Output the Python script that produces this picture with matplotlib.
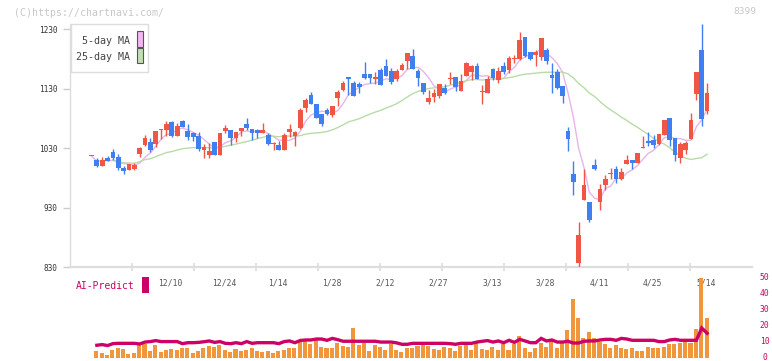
import numpy as np
import pandas as pd
import matplotlib
matplotlib.use('Agg')
import matplotlib.pyplot as plt
from matplotlib.patches import Rectangle
import matplotlib.transforms as mtrans

# ---------------- data ----------------
opens = [1017,1010,1000,1013,1024,1015,997,994,995,1020,
         1036,1041,1037,1060,1061,1074,1051,1076,1059,1056,
         1051,1027,1019,1041,1019,1059,1061,1047,1059,1071,
         1063,1061,1056,1052,1037,1036,1027,1058,1051,1064,
         1098,1120,1105,1088,1094,1086,1115,1128,1150,1140,
         1138,1155,1155,1147,1162,1168,1160,1147,1162,1177,
         1185,1160,1140,1108,1116,1118,1131,1147,1150,1126,
         1152,1158,1168,1124,1123,1163,1145,1168,1162,1180,
         1180,1217,1192,1187,1183,1195,1153,1158,1135,1059,
         987,837,943,940,1002,940,968,986,995,978,
         1004,1010,1005,1030,1042,1044,1037,1052,1081,1047,
         1013,1027,1046,1121,1195,1093]
highs = [1017,1014,1016,1017,1028,1020,1000,1004,1005,1033,
         1052,1048,1059,1063,1076,1076,1073,1078,1071,1058,
         1058,1038,1039,1041,1056,1069,1061,1057,1064,1081,
         1063,1062,1073,1056,1041,1042,1056,1071,1059,1098,
         1115,1125,1105,1088,1098,1101,1128,1143,1150,1143,
         1142,1175,1155,1158,1165,1180,1165,1163,1173,1190,
         1197,1163,1140,1128,1130,1138,1138,1158,1150,1155,
         1175,1170,1173,1136,1152,1165,1167,1175,1185,1187,
         1225,1217,1192,1195,1215,1199,1173,1163,1135,1066,
         1009,906,995,940,1012,970,985,997,1000,997,
         1019,1010,1022,1051,1057,1052,1054,1078,1081,1047,
         1041,1042,1089,1158,1239,1140]
lows = [1017,999,1000,1009,1010,994,987,993,994,1016,
        1034,1024,1033,1045,1050,1049,1050,1066,1044,1043,
        1026,1014,1014,1018,1018,1055,1036,1040,1051,1061,
        1044,1047,1056,1036,1027,1027,1027,1049,1034,1063,
        1091,1105,1081,1068,1086,1083,1101,1126,1120,1118,
        1123,1147,1140,1138,1136,1152,1138,1143,1162,1163,
        1163,1135,1121,1105,1108,1115,1121,1138,1126,1126,
        1152,1145,1147,1105,1123,1145,1140,1155,1157,1173,
        1178,1183,1178,1168,1178,1172,1123,1130,1106,1026,
        952,829,943,906,994,926,960,978,972,977,
        1004,995,1005,1030,1034,1031,1036,1052,1034,1009,
        1005,1021,1046,1111,1068,1088]
closes = [1017,1000,1010,1009,1014,997,992,1004,1002,1030,
          1047,1027,1059,1063,1071,1051,1068,1066,1049,1049,
          1029,1032,1026,1019,1056,1064,1047,1057,1064,1064,
          1056,1056,1061,1037,1038,1027,1052,1063,1057,1094,
          1111,1105,1081,1071,1088,1101,1125,1140,1147,1118,
          1133,1148,1148,1150,1136,1152,1142,1160,1170,1190,
          1163,1148,1125,1115,1123,1138,1123,1148,1133,1143,
          1173,1168,1147,1125,1147,1148,1160,1158,1182,1181,
          1212,1185,1180,1192,1215,1177,1148,1131,1118,1046,
          973,884,968,910,995,962,978,987,978,990,
          1010,1005,1022,1031,1039,1036,1054,1078,1044,1019,
          1037,1039,1078,1158,1079,1123]
volume = [0,4.6,3.1,1.9,5.0,6.3,5.6,2.5,3.1,8.2,
          8.8,4.4,8.2,3.8,5.0,5.6,5.0,6.3,6.3,3.1,
          4.4,6.3,7.5,6.9,8.2,5.0,3.8,5.6,4.4,5.0,
          6.3,4.4,3.8,4.4,3.1,4.4,5.0,6.3,6.3,10.7,
          10.7,8.8,11.3,6.9,6.3,6.3,9.4,7.5,6.9,18.8,
          8.2,9.4,4.4,8.2,7.0,5.0,9.0,5.0,4.0,6.5,
          6.0,7.5,8.0,7.5,5.5,5.0,7.0,6.5,4.5,7.5,
          8.0,5.0,9.5,5.5,5.0,7.0,5.0,9.0,5.0,8.5,
          14.0,6.5,4.0,6.0,9.5,7.0,11.0,6.0,9.5,17.5,
          37.0,25.0,12.5,16.5,12.5,10.0,8.5,6.0,8.0,6.5,
          5.5,6.5,4.5,4.5,7.0,6.0,6.5,7.0,9.0,8.5,
          9.5,10.5,9.5,18.0,50.0,25.0]
ai_predict = [np.nan,8.0,8.4,7.8,9.0,9.2,9.2,9.2,9.2,8.8,
              10.0,10.3,10.9,10.3,10.3,10.3,10.3,9.0,9.6,9.6,
              9.8,10.2,10.7,9.8,10.3,9.2,9.0,9.6,9.0,10.3,
              9.2,9.6,9.6,9.6,9.6,9.0,10.3,10.7,9.6,11.0,
              11.3,11.3,11.9,11.9,11.1,12.3,11.5,10.5,10.5,10.5,
              10.5,10.5,10.5,10.5,10.0,10.0,10.0,9.5,8.6,8.6,
              9.2,9.2,9.2,9.2,9.2,9.2,9.2,9.0,8.6,9.2,
              9.2,9.2,10.0,10.5,10.9,10.0,10.7,9.6,11.1,9.8,
              11.7,10.7,9.6,9.6,12.3,10.7,11.3,10.0,10.0,10.5,
              9.4,9.4,10.5,10.7,10.7,11.3,11.7,11.7,11.1,12.3,
              11.9,11.1,11.1,11.1,11.1,11.1,10.3,10.3,11.3,11.7,
              11.1,11.1,11.1,11.1,18.8,15.5]
date_labels = ['12/10','12/24','1/14','1/28','2/12','2/27','3/13','3/28','4/11','4/25','5/14']
date_label_idx = [14,24,34,44,54,64,74,84,94,104,114]
price_ticks = [830,930,1030,1130,1230]
vol_ticks = [0,10,20,30,40,50]

# ---------------- layout ----------------
W, H = 772, 361
fig = plt.figure(figsize=(W/100, H/100), dpi=100)
fig.patch.set_facecolor('white')

def fx(px):
    return px / W

def fy(py):
    return 1 - py / H

step = 5.353          # px per candle
x_first = 91.5        # px of candle 0
X0, X1 = 70.0, 752.0
xlo = (X0 - x_first) / step
xhi = (X1 - x_first) / step

Y_BOT, Y_TOP = 267.3, 10.0
ppu = 0.595
ymin = 830
ymax = 830 + (Y_BOT - Y_TOP) / ppu

RED = '#f05643'
BLUE = '#3f7ff0'
MONO = 'DejaVu Sans Mono'

ax = fig.add_axes([fx(X0), fy(Y_BOT), fx(X1) - fx(X0), fy(Y_TOP) - fy(Y_BOT)])
ax.set_xlim(xlo, xhi)
ax.set_ylim(ymin, ymax)
ax.set_facecolor('none')
for s in ['top', 'right']:
    ax.spines[s].set_visible(False)
ax.spines['bottom'].set_color('#dddddd')
ax.spines['bottom'].set_linewidth(1.6)
ax.spines['left'].set_color('#dddddd')
ax.spines['left'].set_linewidth(1.0)
ax.spines['left'].set_bounds(830, 1239)

ax.set_yticks(price_ticks)
ax.set_yticklabels([str(t) for t in price_ticks], fontfamily=MONO, fontsize=5.6, color='#333333')
ax.tick_params(axis='y', direction='out', length=5, width=1, color='#cccccc', pad=4)
xt = [xlo + k * (xhi - xlo) / 11 for k in range(1, 11)]
ax.set_xticks(xt)
ax.set_xticklabels([])
ax.tick_params(axis='x', direction='inout', length=6, width=1.2, color='#dddddd')

idx = np.arange(len(opens))
o = np.array(opens, float); c = np.array(closes, float)
h = np.array(highs, float); l = np.array(lows, float)
cols = [RED if cc >= oo else BLUE for oo, cc in zip(o, c)]

ax.vlines(idx, l, h, colors=cols, linewidths=1.0, zorder=3)
body_bot = np.minimum(o, c)
body_h = np.maximum(np.abs(c - o), 1.7)
ax.bar(idx, body_h, bottom=body_bot, width=0.88, color=cols, linewidth=0, zorder=4)

cs = pd.Series(closes, dtype=float)
ma5 = cs.rolling(5, min_periods=1).mean()
ma25 = cs.rolling(25, min_periods=1).mean()
ax.plot(idx, ma5, color='#e8b4ec', lw=1.0, zorder=2)
ax.plot(idx[4:], ma25[4:], color='#b8dca8', lw=1.0, zorder=2)

# date labels
tr = mtrans.blended_transform_factory(ax.transData, fig.transFigure)
for lab, i in zip(date_labels, date_label_idx):
    ax.text(i + 0.8, fy(282.5), lab, transform=tr, ha='center', va='center',
            fontfamily=MONO, fontsize=5.8, color='#555555', clip_on=False)

# legend box
fig.add_artist(Rectangle((fx(70.7), fy(71.7)), fx(148.3) - fx(70.7), fy(24) - fy(71.7),
                         transform=fig.transFigure, facecolor='white', edgecolor='#dddddd',
                         linewidth=1.0, zorder=10))
fig.add_artist(Rectangle((fx(137), fy(46.5)), fx(142.5) - fx(137), fy(31) - fy(46.5),
                         transform=fig.transFigure, facecolor='#f0b8f0', edgecolor='#555555',
                         linewidth=0.8, zorder=11))
fig.add_artist(Rectangle((fx(137), fy(63.3)), fx(142.5) - fx(137), fy(48.3) - fy(63.3),
                         transform=fig.transFigure, facecolor='#c0e0b0', edgecolor='#555555',
                         linewidth=0.8, zorder=11))
fig.text(fx(129.5), fy(40.5), '5-day MA', ha='right', va='center', fontfamily=MONO,
         fontsize=7.2, color='#444444', zorder=12)
fig.text(fx(129.5), fy(57), '25-day MA', ha='right', va='center', fontfamily=MONO,
         fontsize=7.2, color='#444444', zorder=12)

# header texts
fig.text(fx(14), fy(12.5), '(C)https://chartnavi.com/', ha='left', va='center',
         fontfamily=MONO, fontsize=7.1, color='#c8c8c8')
fig.text(fx(756.5), fy(11.7), '8399', ha='right', va='center',
         fontfamily=MONO, fontsize=6.8, color='#c8c8c8')

# ---------------- volume / AI panel ----------------
CRIM = '#cc0066'
axv = fig.add_axes([fx(X0), fy(358), fx(X1) - fx(X0), fy(278.3) - fy(358)])
axv.set_xlim(xlo, xhi)
axv.set_ylim(0, 50)
axv.set_facecolor('none')
for s in axv.spines.values():
    s.set_visible(False)
axv.set_xticks([])
axv.yaxis.tick_right()
axv.set_yticks(vol_ticks)
axv.set_yticklabels([str(v) for v in vol_ticks], fontfamily=MONO, fontsize=5.8, color=CRIM)
axv.tick_params(axis='y', length=0, pad=9)
shift = mtrans.ScaledTranslation(0, 1.2 / 72, fig.dpi_scale_trans)
for t in axv.get_yticklabels():
    t.set_horizontalalignment('center')
    t.set_transform(t.get_transform() + shift)

axv.bar(idx - 0.1, volume, width=0.75, color='#f0963c', linewidth=0, zorder=2, clip_on=False)
axv.plot(idx, ai_predict, color=CRIM, lw=2.4, zorder=3, clip_on=False, solid_joinstyle='miter')

fig.text(fx(76), fy(286), 'AI-Predict', ha='left', va='center', fontfamily=MONO,
         fontsize=7.05, color=CRIM)
fig.add_artist(Rectangle((fx(142), fy(292.7)), fx(148.7) - fx(142), fy(276.7) - fy(292.7),
                         transform=fig.transFigure, facecolor=CRIM, edgecolor='none'))

fig.savefig('out.png', dpi=100, facecolor='white')
